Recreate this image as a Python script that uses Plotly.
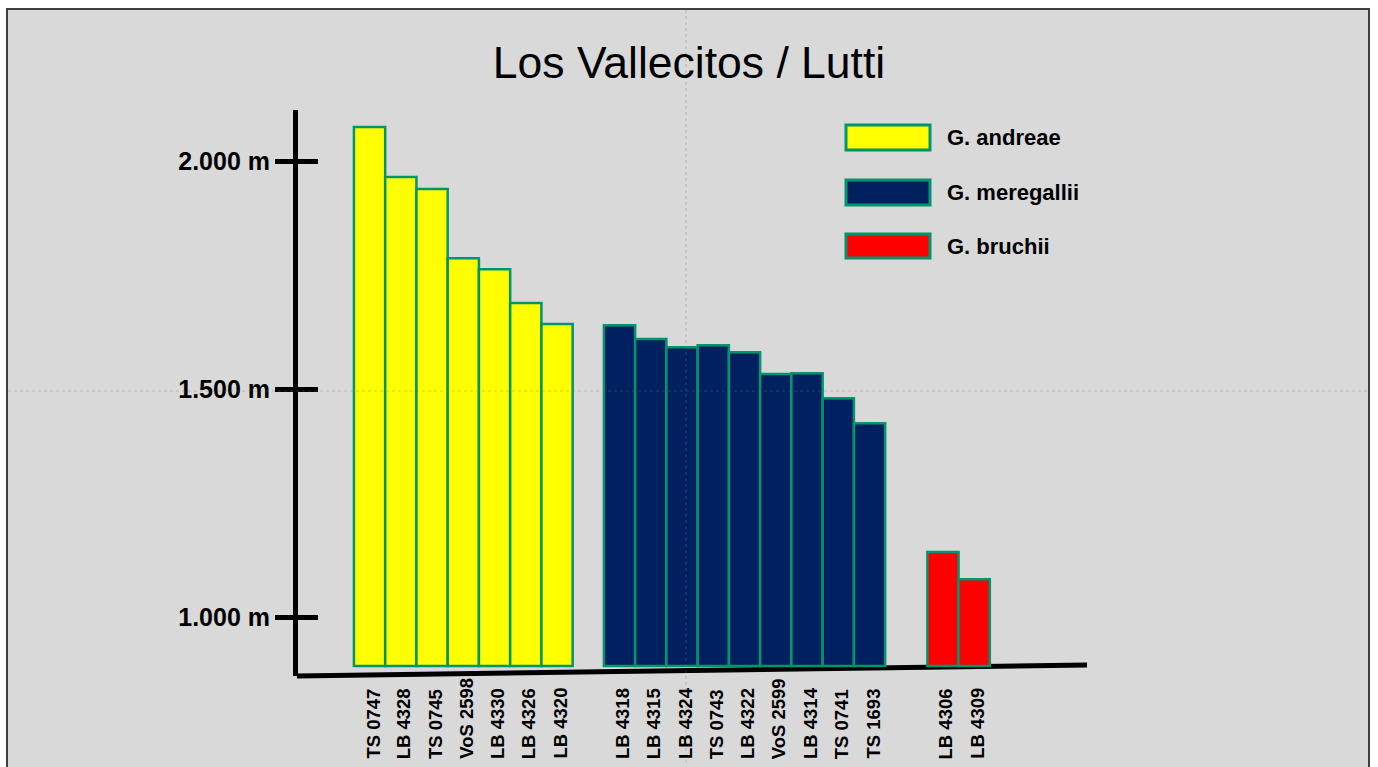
import plotly.graph_objects as go

# ---------------- data ----------------
species = ["G. andreae", "G. meregallii", "G. bruchii"]
andreae_ids = ["TS 0747", "LB 4328", "TS 0745", "VoS 2598", "LB 4330", "LB 4326", "LB 4320"]
andreae_alt = [2075, 1965, 1939, 1787, 1763, 1689, 1643]
meregallii_ids = ["LB 4318", "LB 4315", "LB 4324", "TS 0743", "LB 4322", "VoS 2599",
                  "LB 4314", "TS 0741", "TS 1693"]
meregallii_alt = [1640, 1610, 1592, 1596, 1581, 1533, 1535, 1480, 1425]
bruchii_ids = ["LB 4306", "LB 4309"]
bruchii_alt = [1143, 1083]
tick_vals = [1000, 1500, 2000]
tick_text = ["1.000 m", "1.500 m", "2.000 m"]

# ---------------- layout constants ----------------
W, H = 1378, 767
L, R, T, B = 298, 291, 110, 91
PW, PH = W - L - R, H - T - B
Y_RANGE = [871, 2112]
X_RANGE = [-2.29, 22.96]
BASE = 893
GROUP_START = [0, 8, 18.35]
COLORS = ["#FFFF00", "#002060", "#FF0000"]
EDGE = "#00956C"
FONT = "Arial, Liberation Sans, sans-serif"


def px(xp):
    return (xp - L) / PW


def py(yp):
    return (H - B - yp) / PH


groups = [(andreae_ids, andreae_alt), (meregallii_ids, meregallii_alt), (bruchii_ids, bruchii_alt)]

fig = go.Figure()
annotations = []
all_pos, all_lbl = [], []
for (ids, alts), name, col, start in zip(groups, species, COLORS, GROUP_START):
    pos = [start + i for i in range(len(ids))]
    all_pos += pos
    all_lbl += ids
    fig.add_trace(go.Bar(
        x=pos, y=[a - BASE for a in alts], base=BASE, name=name, width=1.0,
        marker=dict(color=col, line=dict(color=EDGE, width=2.5)),
        customdata=alts, hovertemplate="%{customdata} m<extra>" + name + "</extra>",
        showlegend=False,
    ))

# category labels, bottom-aligned like the slide's text boxes
for p, lbl in zip(all_pos, all_lbl):
    annotations.append(dict(xref="x", yref="paper", x=p, y=py(761), text="<b>" + lbl + "</b>",
                            textangle=-90, showarrow=False, xanchor="center", yanchor="bottom", xshift=3,
                            font=dict(family=FONT, size=18.5, color="black")))

shapes = []
# slide frame
shapes.append(dict(type="rect", xref="paper", yref="paper", x0=px(7), x1=px(1369), y0=py(9), y1=py(800),
                   fillcolor="#D9D9D9", line=dict(color="#404040", width=2), layer="below"))
# slanted x axis line
shapes.append(dict(type="line", xref="paper", yref="paper", x0=px(297), x1=px(1087), y0=py(676), y1=py(665),
                   line=dict(color="black", width=5), layer="below"))
# custom legend swatches
sw_y = [(125, 150), (180, 205), (234, 258)]
for (y0, y1), col, name in zip(sw_y, COLORS, species):
    shapes.append(dict(type="rect", xref="paper", yref="paper", x0=px(846), x1=px(930), y0=py(y1), y1=py(y0),
                       fillcolor=col, line=dict(color=EDGE, width=3)))
# dotted slide guides
shapes.append(dict(type="line", xref="paper", yref="paper", x0=px(686), x1=px(686), y0=py(10), y1=py(767),
                   line=dict(color="rgba(120,120,120,0.35)", width=1, dash="dot")))
shapes.append(dict(type="line", xref="paper", yref="paper", x0=px(8), x1=px(1368), y0=py(391), y1=py(391),
                   line=dict(color="rgba(120,120,120,0.35)", width=1, dash="dot")))

for (y0, y1), name in zip(sw_y, species):
    annotations.append(dict(xref="paper", yref="paper", x=px(945), y=py((y0 + y1) / 2), text="<b>" + name + "</b>",
                            showarrow=False, xanchor="left", yanchor="middle",
                            font=dict(family=FONT, size=22, color="black")))

fig.update_layout(
    width=W, height=H,
    margin=dict(l=L, r=R, t=T, b=B, pad=0, autoexpand=False),
    paper_bgcolor="white", plot_bgcolor="rgba(0,0,0,0)",
    title=dict(text="Los Vallecitos / Lutti", x=0.5, xref="container", xanchor="center",
               y=1 - 62 / H, yref="container", yanchor="middle",
               font=dict(family=FONT, size=44.5, color="black")),
    barmode="overlay",
    shapes=shapes, annotations=annotations,
    xaxis=dict(range=X_RANGE, tickmode="array", tickvals=all_pos, ticktext=all_lbl, showticklabels=False,
               showgrid=False, zeroline=False, showline=False, ticks="", automargin=False),
    yaxis=dict(range=Y_RANGE, tickmode="array", tickvals=tick_vals, ticktext=tick_text, automargin=False,
               showgrid=False, zeroline=False, showline=True, linecolor="black", linewidth=5,
               ticks="outside", ticklen=18, tickwidth=5, tickcolor="black",
               tickfont=dict(family=FONT, size=25, color="black", weight="bold")),
    yaxis2=dict(range=Y_RANGE, overlaying="y", matches="y", side="left", tickmode="array", tickvals=tick_vals,
                showticklabels=False, showgrid=False, zeroline=False, showline=False, automargin=False,
                ticks="inside", ticklen=20, tickwidth=5, tickcolor="black"),
    showlegend=False,
)
# invisible helper trace so the inner tick axis is drawn
fig.add_trace(go.Scatter(x=[all_pos[0]], y=[BASE], yaxis="y2", mode="markers",
                         marker=dict(opacity=0), hoverinfo="skip", showlegend=False))

fig.write_html("out.html", config={"displayModeBar": False},
               post_script="document.body.style.margin='0';document.body.style.overflow='hidden';")
